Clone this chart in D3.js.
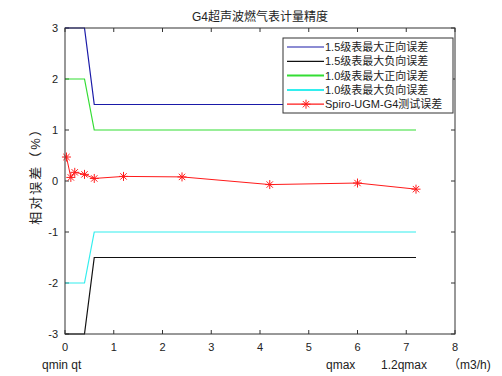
<!DOCTYPE html>
<html>
<head>
<meta charset="utf-8">
<script src="https://cdn.jsdelivr.net/npm/d3@7"></script>
<style>
  body { margin: 0; background: #fff; }
  text { font-family: "Liberation Sans", Arial, "Noto Sans CJK SC", sans-serif; fill: #222; }
</style>
</head>
<body>
<div id="chart"></div>
<script>
// chart size
var w = 502, h = 376;
var margin = {left: 65, right: 47, top: 28, bottom: 42};

// limit lines (x in m3/h, y in %)
var limitX = [0, 0.4, 0.6, 7.2];
var pos15 = [3, 3, 1.5, 1.5];
var neg15 = [-3, -3, -1.5, -1.5];
var pos10 = [2, 2, 1, 1];
var neg10 = [-2, -2, -1, -1];

// measured error
var testX = [0.03, 0.12, 0.2, 0.4, 0.6, 1.2, 2.4, 4.2, 6.0, 7.2];
var testY = [0.47, 0.07, 0.17, 0.13, 0.05, 0.09, 0.08, -0.07, -0.04, -0.16];

var xTicks = [0, 1, 2, 3, 4, 5, 6, 7, 8];
var yTicks = [-3, -2, -1, 0, 1, 2, 3];

var seriesNames = ["1.5级表最大正向误差", "1.5级表最大负向误差", "1.0级表最大正向误差", "1.0级表最大负向误差", "Spiro-UGM-G4测试误差"];
var seriesColors = ["#1a1aa8", "#111111", "#33dd33", "#33eeee", "#ff1a1a"];

var svg = d3.select("#chart").append("svg")
	.attr("width", w)
	.attr("height", h);

var x = d3.scaleLinear().domain([0, 8]).range([margin.left, w - margin.right]);
var y = d3.scaleLinear().domain([-3, 3]).range([h - margin.bottom, margin.top]);

//Tick marks inside the box, on all four sides
var axisColor = "#333";
var tl = 4;
var axes = svg.append("g");
xTicks.forEach(function(t) {
	axes.append("line").attr("x1", x(t)).attr("x2", x(t)).attr("y1", y(-3)).attr("y2", y(-3) - tl).attr("stroke", axisColor);
	axes.append("line").attr("x1", x(t)).attr("x2", x(t)).attr("y1", y(3)).attr("y2", y(3) + tl).attr("stroke", axisColor);
	axes.append("text").attr("x", x(t)).attr("y", y(-3) + 17).attr("text-anchor", "middle")
		.style("font-size", "11px").text(t);
});
yTicks.forEach(function(t) {
	axes.append("line").attr("x1", x(0)).attr("x2", x(0) + tl).attr("y1", y(t)).attr("y2", y(t)).attr("stroke", axisColor);
	axes.append("line").attr("x1", x(8)).attr("x2", x(8) - tl).attr("y1", y(t)).attr("y2", y(t)).attr("stroke", axisColor);
	axes.append("text").attr("x", x(0) - 7).attr("y", y(t) + 4).attr("text-anchor", "end")
		.style("font-size", "11px").text(t);
});

//Lines
var line = d3.line().x(function(d) { return x(d[0]); }).y(function(d) { return y(d[1]); });
var limits = [pos15, neg15, pos10, neg10];
limits.forEach(function(s, i) {
	svg.append("path")
		.attr("d", line(limitX.map(function(v, j) { return [v, s[j]]; })))
		.attr("fill", "none")
		.attr("stroke", seriesColors[i])
		.attr("stroke-width", 1.2);
});

var testData = testX.map(function(v, j) { return [v, testY[j]]; });
svg.append("path")
	.attr("d", line(testData))
	.attr("fill", "none")
	.attr("stroke", seriesColors[4])
	.attr("stroke-width", 1);

//star marker, matlab '*'
function drawStar(g, cx, cy) {
	var r = 4.5;
	[0, 45, 90, 135].forEach(function(a) {
		var rad = a * Math.PI / 180;
		g.append("line")
			.attr("x1", cx - r * Math.cos(rad)).attr("y1", cy - r * Math.sin(rad))
			.attr("x2", cx + r * Math.cos(rad)).attr("y2", cy + r * Math.sin(rad))
			.attr("stroke", seriesColors[4]).attr("stroke-width", 1);
	});
}
var marks = svg.append("g");
testData.forEach(function(d) { drawStar(marks, x(d[0]), y(d[1])); });

//Box
svg.append("rect")
	.attr("x", x(0)).attr("y", y(3))
	.attr("width", x(8) - x(0)).attr("height", y(-3) - y(3))
	.attr("fill", "none").attr("stroke", axisColor);

//Title and labels
svg.append("text").attr("x", (x(0) + x(8)) / 2).attr("y", 21).attr("text-anchor", "middle")
	.style("font-size", "12px").text("G4超声波燃气表计量精度");

svg.append("text")
	.attr("transform", "translate(40," + (y(0) - 8) + ") rotate(-90)")
	.attr("text-anchor", "middle")
	.style("font-size", "13px")
	.style("letter-spacing", "2px")
	.text("相对误差（%）");

var bottomY = 369;
svg.append("text").attr("x", 42).attr("y", bottomY).style("font-size", "12px").text("qmin qt");
svg.append("text").attr("x", 326).attr("y", bottomY).style("font-size", "12px").text("qmax");
svg.append("text").attr("x", 381).attr("y", bottomY).style("font-size", "12px").text("1.2qmax");
svg.append("text").attr("x", 448).attr("y", bottomY).style("font-size", "12px").text("（m3/h)");

//Legend
var lg = svg.append("g").attr("transform", "translate(283,38)");
lg.append("rect").attr("width", 170).attr("height", 75)
	.attr("fill", "#fff").attr("stroke", axisColor);
seriesNames.forEach(function(n, i) {
	var ry = 9 + i * 14.3;
	lg.append("line").attr("x1", 4).attr("x2", 41).attr("y1", ry).attr("y2", ry)
		.attr("stroke", seriesColors[i]).attr("stroke-width", i == 2 || i == 3 ? 2 : 1.2);
	if (i == 4) drawStar(lg, 23, ry);
	lg.append("text").attr("x", 42).attr("y", ry + 4).style("font-size", "11px").text(n);
});
</script>
</body>
</html>
